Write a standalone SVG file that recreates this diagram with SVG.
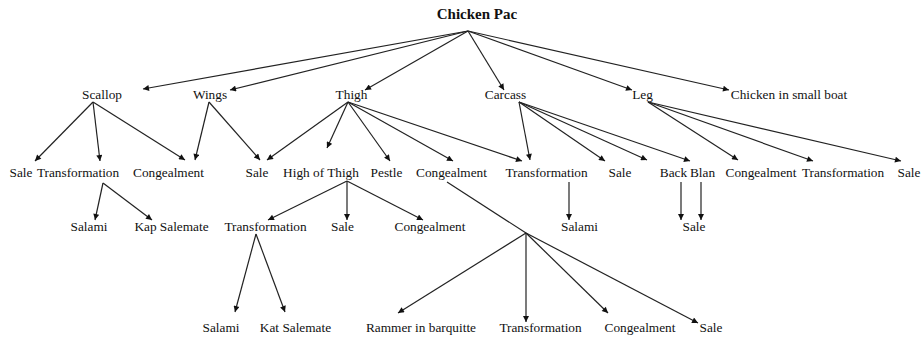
<svg xmlns="http://www.w3.org/2000/svg" width="923" height="337" viewBox="0 0 923 337">
<defs>
<style>
text{font-family:"Liberation Serif","Times New Roman",serif;font-size:13.3px;fill:#111;text-anchor:middle}
.root{font-weight:bold;font-size:15px}
.c line{stroke:#222;stroke-width:1.2;marker-end:url(#ah)}
.c line.plain{marker-end:none}
</style>
<marker id="ah" viewBox="0 0 10 10" refX="10" refY="5" markerWidth="8" markerHeight="6" markerUnits="userSpaceOnUse" orient="auto">
<path d="M0,0L10,5L0,10z" fill="#111"/>
</marker>
</defs>
<rect width="923" height="337" fill="#fff"/>
<g class="c" id="connectors">
<line x1="468" y1="31" x2="143" y2="89"/>
<line x1="468" y1="31" x2="230" y2="90"/>
<line x1="468" y1="31" x2="365" y2="90"/>
<line x1="468" y1="31" x2="504" y2="90"/>
<line x1="468" y1="31" x2="632" y2="90"/>
<line x1="468" y1="31" x2="729" y2="90"/>
<line x1="93" y1="102" x2="35" y2="161"/>
<line x1="93" y1="102" x2="100" y2="161"/>
<line x1="93" y1="102" x2="185" y2="160"/>
<line x1="209" y1="102" x2="195" y2="160"/>
<line x1="209" y1="102" x2="260" y2="160"/>
<line x1="348" y1="102" x2="267" y2="160"/>
<line x1="348" y1="102" x2="327" y2="148"/>
<line x1="348" y1="102" x2="390" y2="161"/>
<line x1="348" y1="102" x2="453" y2="161"/>
<line x1="348" y1="102" x2="522" y2="161"/>
<line x1="519" y1="102" x2="530" y2="160"/>
<line x1="519" y1="102" x2="605" y2="161"/>
<line x1="519" y1="102" x2="647" y2="160"/>
<line x1="519" y1="102" x2="690" y2="161"/>
<line x1="648" y1="102" x2="738" y2="160"/>
<line x1="648" y1="102" x2="813" y2="161"/>
<line x1="648" y1="102" x2="901" y2="161"/>
<line x1="103" y1="183" x2="95" y2="220"/>
<line x1="103" y1="183" x2="152" y2="220"/>
<line x1="347" y1="181" x2="268" y2="220"/>
<line x1="347" y1="181" x2="347" y2="220"/>
<line x1="347" y1="181" x2="423" y2="220"/>
<line class="plain" x1="447" y1="182" x2="526" y2="233"/>
<line x1="526" y1="233" x2="398" y2="313"/>
<line x1="526" y1="233" x2="526" y2="322"/>
<line x1="526" y1="233" x2="608" y2="313"/>
<line x1="526" y1="233" x2="698" y2="323"/>
<line x1="569" y1="182" x2="569" y2="220"/>
<line x1="681" y1="182" x2="681" y2="220"/>
<line x1="701" y1="182" x2="701" y2="220"/>
<line x1="256" y1="234" x2="235" y2="312"/>
<line x1="256" y1="234" x2="285" y2="312"/>
</g>
<g id="n-root"><text class="root" x="477" y="19">Chicken Pac</text></g>
<g id="n-scallop"><text x="102" y="99">Scallop</text></g>
<g id="n-wings"><text x="210" y="99">Wings</text></g>
<g id="n-thigh"><text x="351.5" y="99">Thigh</text></g>
<g id="n-carcass"><text x="505.5" y="99">Carcass</text></g>
<g id="n-leg"><text x="642.5" y="99">Leg</text></g>
<g id="n-boat"><text x="789" y="99">Chicken in small boat</text></g>
<g id="n-s-sale"><text x="21" y="177">Sale</text></g>
<g id="n-s-transf"><text x="78" y="177">Transformation</text></g>
<g id="n-congeal1"><text x="168.5" y="177">Congealment</text></g>
<g id="n-sale1"><text x="257" y="177">Sale</text></g>
<g id="n-highthigh"><text x="321" y="177">High of Thigh</text></g>
<g id="n-pestle"><text x="386.5" y="177">Pestle</text></g>
<g id="n-t-congeal"><text x="451.5" y="177">Congealment</text></g>
<g id="n-transf2"><text x="546.5" y="177">Transformation</text></g>
<g id="n-c-sale"><text x="620" y="177">Sale</text></g>
<g id="n-back"><text x="673.5" y="177">Back</text></g>
<g id="n-blan"><text x="702.5" y="177">Blan</text></g>
<g id="n-l-congeal"><text x="761" y="177">Congealment</text></g>
<g id="n-l-transf"><text x="843" y="177">Transformation</text></g>
<g id="n-l-sale"><text x="909" y="177">Sale</text></g>
<g id="n-salami1"><text x="89" y="231">Salami</text></g>
<g id="n-kap"><text x="171.5" y="231">Kap Salemate</text></g>
<g id="n-h-transf"><text x="265.5" y="231">Transformation</text></g>
<g id="n-h-sale"><text x="342.5" y="231">Sale</text></g>
<g id="n-h-congeal"><text x="430" y="231">Congealment</text></g>
<g id="n-c-salami"><text x="579.5" y="231">Salami</text></g>
<g id="n-bb-sale"><text x="694" y="231">Sale</text></g>
<g id="n-salami2"><text x="221" y="332">Salami</text></g>
<g id="n-kat"><text x="295.5" y="332">Kat Salemate</text></g>
<g id="n-rammer"><text x="421" y="332">Rammer in barquitte</text></g>
<g id="n-j-transf"><text x="540.5" y="332">Transformation</text></g>
<g id="n-j-congeal"><text x="640" y="332">Congealment</text></g>
<g id="n-j-sale"><text x="711" y="332">Sale</text></g>
</svg>
